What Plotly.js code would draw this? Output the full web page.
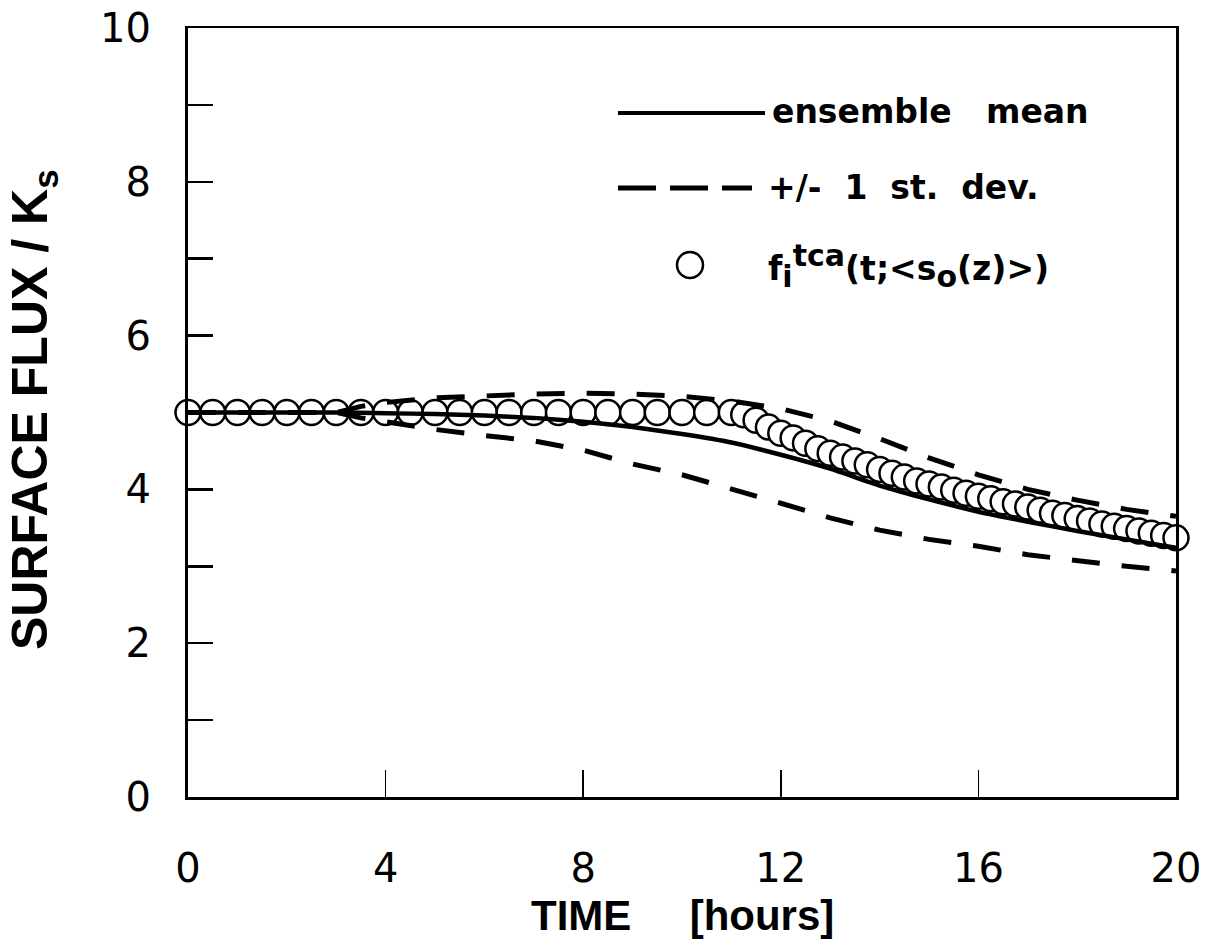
<!DOCTYPE html>
<html>
<head>
<meta charset="utf-8">
<script src="https://cdn.plot.ly/plotly-3.0.1.min.js"></script>
<style>html,body{margin:0;padding:0;background:#fff;}#chart{width:1220px;height:949px;}</style>
</head>
<body>
<div id="chart"></div>
<script>
// ---- data ----
var tMean = [0,1,2,3,4,5,6,7,8,9,10,11,12,13,14,15,16,17,18,19,20];
var meanFlux = [5.0,5.0,5.0,5.0,4.99,4.98,4.96,4.93,4.88,4.81,4.72,4.61,4.45,4.27,4.05,3.87,3.71,3.58,3.46,3.35,3.24];

var tDev = [0,1,2,3,3.5,4,5,6,7,8,9,10,11,12,13,14,15,16,17,18,19,20];
var upperDev = [5.0,5.0,5.0,5.0,5.08,5.13,5.19,5.22,5.24,5.25,5.24,5.21,5.15,5.05,4.89,4.66,4.41,4.19,4.0,3.86,3.74,3.65];
var lowerDev = [5.0,5.0,5.0,5.0,4.93,4.88,4.78,4.70,4.63,4.51,4.33,4.19,4.01,3.82,3.63,3.47,3.35,3.26,3.15,3.07,3.0,2.94];

var tTca = [0,0.5,1,1.5,2,2.5,3,3.5,4,4.5,5,5.5,6,6.5,7,7.5,8,8.5,9,9.5,10,10.5,11,
            11.25,11.5,11.75,12,12.25,12.5,12.75,13,13.25,13.5,13.75,14,14.25,14.5,14.75,15,
            15.25,15.5,15.75,16,16.25,16.5,16.75,17,17.25,17.5,17.75,18,18.25,18.5,18.75,19,
            19.25,19.5,19.75,20];
var tcaFlux = [5,5,5,5,5,5,5,5,5,5,5,5,5,5,5,5,5,5,5,5,5,5,5,
            4.97,4.90,4.81,4.73,4.67,4.60,4.53,4.47,4.42,4.37,4.32,4.26,4.21,4.16,4.11,4.07,
            4.03,3.99,3.95,3.91,3.88,3.84,3.81,3.77,3.73,3.69,3.66,3.62,3.59,3.55,3.52,3.49,
            3.46,3.43,3.40,3.37];

var xTicks = [0,4,8,12,16,20];
var yTickVals = [0,1,2,3,4,5,6,7,8,9,10];
var yTickText = ['0','','2','','4','','6','','8','','10'];

var legendMean = 'ensemble&nbsp;&nbsp; mean';
var legendDev = '+/-&nbsp; 1&nbsp; st.&nbsp; dev.';
var legendTca = 'f<sub><span style="font-size:30px">i</span></sub><sup><span style="font-size:30px">tca</span></sup>(t;&lt;s<sub><span style="font-size:30px">o</span></sub>(z)&gt;)';
var xTitle = 'TIME&nbsp;&nbsp;&nbsp;&nbsp; [hours]';
var yTitle = 'SURFACE FLUX / K<sub>s</sub>';

// ---- layout helpers (pixel -> paper) ----
var L = 188, R = 1176, T = 28, B = 797;
function px(x){ return (x - L) / (R - L); }
function py(y){ return (B - y) / (B - T); }

var tickFont = {family: 'DejaVu Sans, sans-serif', size: 40, color: '#000'};
var legFont = {family: 'DejaVu Sans, sans-serif', size: 33, color: '#000', weight: 'bold'};
var xTitleFont = {family: 'Liberation Sans, Arial, sans-serif', size: 42, color: '#000', weight: 'bold'};
var yTitleFont = {family: 'Liberation Sans, Arial, sans-serif', size: 50, color: '#000', weight: 'bold'};

var traces = [
  {x: tTca, y: tcaFlux, mode: 'markers', type: 'scatter', cliponaxis: false, showlegend: false,
   marker: {symbol: 'circle', size: 25, color: '#fff', line: {color: '#000', width: 2.5}}},
  {x: tDev, y: upperDev, mode: 'lines', type: 'scatter', showlegend: false,
   line: {color: '#000', width: 5, dash: '28px,22px'}},
  {x: tDev, y: lowerDev, mode: 'lines', type: 'scatter', showlegend: false,
   line: {color: '#000', width: 5, dash: '28px,22px'}},
  {x: tMean, y: meanFlux, mode: 'lines', type: 'scatter', showlegend: false,
   line: {color: '#000', width: 4.5, shape: 'spline', smoothing: 0.6}}
];

var layout = {
  width: 1220, height: 949,
  margin: {l: L, r: 1220 - R, t: T, b: 949 - B, pad: 0},
  paper_bgcolor: '#fff', plot_bgcolor: '#fff',
  showlegend: false,
  xaxis: {range: [0, 20], tickvals: xTicks, ticktext: xTicks.map(String),
    ticks: 'inside', ticklen: 27, tickwidth: 1.5, tickcolor: '#000',
    showline: true, linewidth: 2.5, linecolor: '#000', mirror: true,
    showgrid: false, zeroline: false, tickfont: tickFont, ticklabelstandoff: 34},
  yaxis: {range: [0, 10], tickvals: yTickVals, ticktext: yTickText,
    ticks: 'inside', ticklen: 25, tickwidth: 2.5, tickcolor: '#000',
    showline: true, linewidth: 3, linecolor: '#000', mirror: true,
    showgrid: false, zeroline: false, tickfont: tickFont, ticklabelstandoff: 26},
  shapes: [
    {type: 'line', xref: 'paper', yref: 'paper', x0: px(618), x1: px(765), y0: py(113), y1: py(113),
     line: {color: '#000', width: 4}},
    {type: 'line', xref: 'paper', yref: 'paper', x0: px(618), x1: px(752), y0: py(188), y1: py(188),
     line: {color: '#000', width: 5, dash: '38px,14px'}},
    {type: 'circle', xref: 'paper', yref: 'paper', x0: px(677), x1: px(703), y0: py(278), y1: py(252),
     line: {color: '#000', width: 2.5}, fillcolor: 'rgba(0,0,0,0)'}
  ],
  annotations: [
    {text: legendMean, xref: 'paper', yref: 'paper', x: px(770), y: py(111), xanchor: 'left', yanchor: 'middle', showarrow: false, font: legFont},
    {text: legendDev, xref: 'paper', yref: 'paper', x: px(766), y: py(187), xanchor: 'left', yanchor: 'middle', showarrow: false, font: legFont},
    {text: legendTca, xref: 'paper', yref: 'paper', x: px(766), y: py(266), xanchor: 'left', yanchor: 'middle', showarrow: false, font: legFont},
    {text: xTitle, xref: 'paper', yref: 'paper', x: 0.5, y: py(916), xanchor: 'center', yanchor: 'middle', showarrow: false, font: xTitleFont},
    {text: yTitle, xref: 'paper', yref: 'paper', x: px(33), y: py(410), xanchor: 'center', yanchor: 'middle', textangle: -90, showarrow: false, font: yTitleFont}
  ]
};

Plotly.newPlot('chart', traces, layout, {displayModeBar: false, staticPlot: true});
</script>
</body>
</html>
